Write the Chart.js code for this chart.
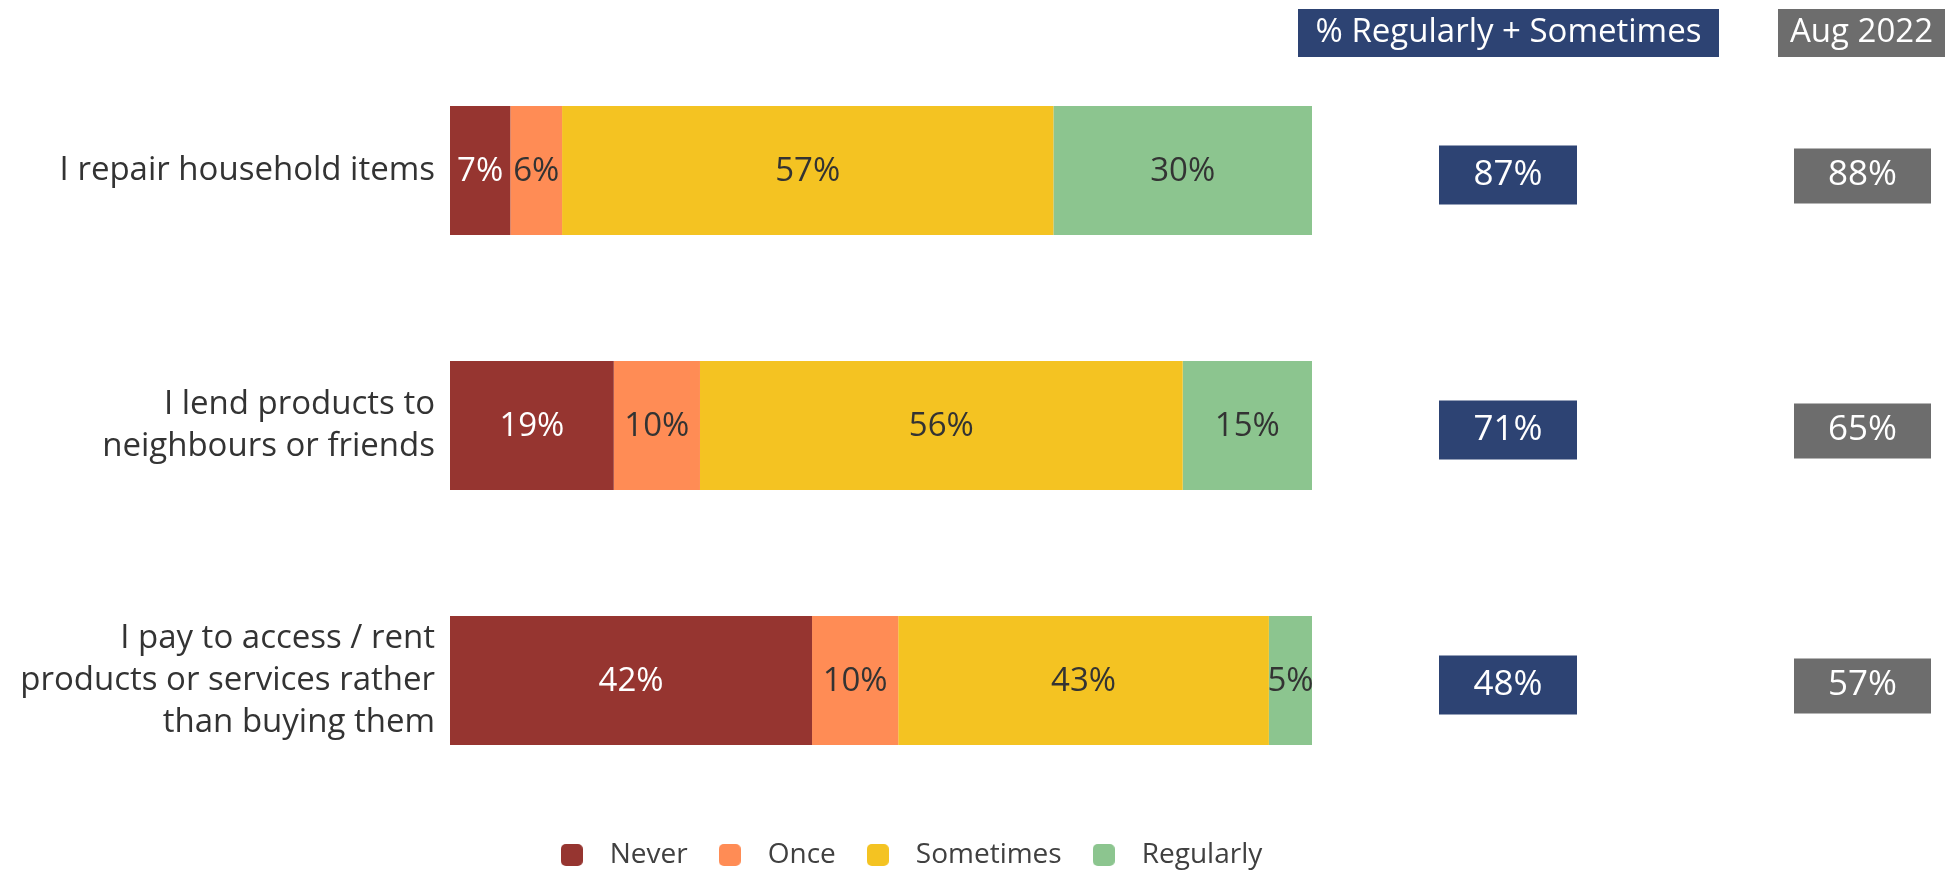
<!DOCTYPE html>
<html>
<head>
<meta charset="utf-8">
<script src="https://cdn.jsdelivr.net/npm/chart.js@4/dist/chart.umd.min.js"></script>
<style>
  html, body { margin: 0; padding: 0; background: #fff; }
  #wrap { width: 1955px; height: 874px; position: relative; }
</style>
</head>
<body>
<div id="wrap"><canvas id="chart"></canvas></div>
<script>
// data
const categories = [
    ['I repair household items'],
    ['I lend products to', 'neighbours or friends'],
    ['I pay to access / rent', 'products or services rather', 'than buying them']
];
const seriesNames = ['Never', 'Once', 'Sometimes', 'Regularly'];
const never = [7, 19, 42];
const once = [6, 10, 10];
const sometimes = [57, 56, 43];
const regularly = [30, 15, 5];
const regularlySometimes = [87, 71, 48];
const aug2022 = [88, 65, 57];
const headerNow = '% Regularly + Sometimes';
const headerPrev = 'Aug 2022';

const colors = ['#963530', '#FF8C55', '#F4C322', '#8CC58F'];
const labelColors = ['#ffffff', '#333333', '#333333', '#333333'];
const NAVY = '#2D4373';
const GREY = '#6D6D6D';
const FONT = '"Open Sans", "DejaVu Sans", sans-serif';

// small rounded squares used as legend markers
function makeMarker(color) {
    const c = document.createElement('canvas');
    c.width = 22;
    c.height = 22;
    const g = c.getContext('2d');
    g.fillStyle = color;
    g.beginPath();
    g.roundRect(0, 0, 22, 22, 5);
    g.fill();
    return c;
}
const markers = colors.map(makeMarker);

// percentage labels in the bars + the two summary columns on the right
const extrasPlugin = {
    id: 'extras',
    afterDatasetsDraw(chart) {
        const ctx = chart.ctx;
        ctx.save();
        ctx.textBaseline = 'middle';
        ctx.textAlign = 'center';
        ctx.font = '33px ' + FONT;
        chart.data.datasets.forEach((ds, i) => {
            const meta = chart.getDatasetMeta(i);
            meta.data.forEach((bar, j) => {
                ctx.fillStyle = labelColors[i];
                ctx.fillText(ds.data[j] + '%', (bar.x + bar.base) / 2, bar.y + 1);
            });
        });

        // header boxes
        ctx.fillStyle = NAVY;
        ctx.fillRect(1298, 9, 421, 48);
        ctx.fillStyle = GREY;
        ctx.fillRect(1778, 9, 167, 48);
        ctx.fillStyle = '#fff';
        ctx.fillText(headerNow, 1508.5, 33);
        ctx.fillText(headerPrev, 1861.5, 33);

        // value boxes
        const y = chart.scales.y;
        ctx.font = '35px ' + FONT;
        regularlySometimes.forEach((v, j) => {
            const cy = y.getPixelForValue(j) + 4;
            ctx.fillStyle = NAVY;
            ctx.fillRect(1439, cy - 29, 138, 59);
            ctx.fillStyle = GREY;
            ctx.fillRect(1794, cy - 26, 137, 55);
            ctx.fillStyle = '#fff';
            ctx.fillText(v + '%', 1508, cy + 1);
            ctx.fillText(aug2022[j] + '%', 1862.5, cy + 1);
        });
        ctx.restore();
    }
};

const ctx = document.getElementById('chart').getContext('2d');
new Chart(ctx, {
    type: 'bar',
    data: {
        labels: categories,
        datasets: [never, once, sometimes, regularly].map((d, i) => ({
            label: seriesNames[i],
            data: d,
            backgroundColor: colors[i],
            borderWidth: 0,
            categoryPercentage: 0.505,
            barPercentage: 1
        }))
    },
    options: {
        indexAxis: 'y',
        responsive: true,
        maintainAspectRatio: false,
        animation: false,
        layout: { padding: { top: 43, left: 0, right: 145, bottom: -5 } },
        scales: {
            x: { stacked: true, min: 0, max: 100, display: false },
            y: {
                stacked: true,
                grid: { display: false, drawTicks: false },
                border: { display: false },
                ticks: {
                    color: '#333333',
                    padding: 15,
                    font: { family: FONT, size: 33, lineHeight: 1.27 }
                },
                afterFit(scale) {
                    scale.width = 450;
                    // the 3-line label would otherwise push the plot down
                    scale.paddingTop = 0;
                    scale.paddingBottom = 0;
                }
            },
            // empty right axis, only reserves room for the summary columns
            yr: {
                type: 'linear',
                position: 'right',
                grid: { display: false },
                border: { display: false },
                ticks: { display: false },
                afterFit(scale) {
                    scale.width = 498;
                    scale.paddingTop = 0;
                    scale.paddingBottom = 0;
                }
            }
        },
        plugins: {
            legend: {
                position: 'bottom',
                title: { display: true, text: '', padding: 0, font: { size: 15, lineHeight: 1 } },
                labels: {
                    usePointStyle: true,
                    pointStyleWidth: 48,
                    padding: 18,
                    color: '#404040',
                    font: { family: FONT, size: 28 },
                    generateLabels(chart) {
                        const items = Chart.defaults.plugins.legend.labels.generateLabels(chart);
                        items.forEach((it, i) => { it.pointStyle = markers[i]; });
                        return items;
                    }
                }
            },
            tooltip: { enabled: false }
        }
    },
    plugins: [extrasPlugin]
});
</script>
</body>
</html>
